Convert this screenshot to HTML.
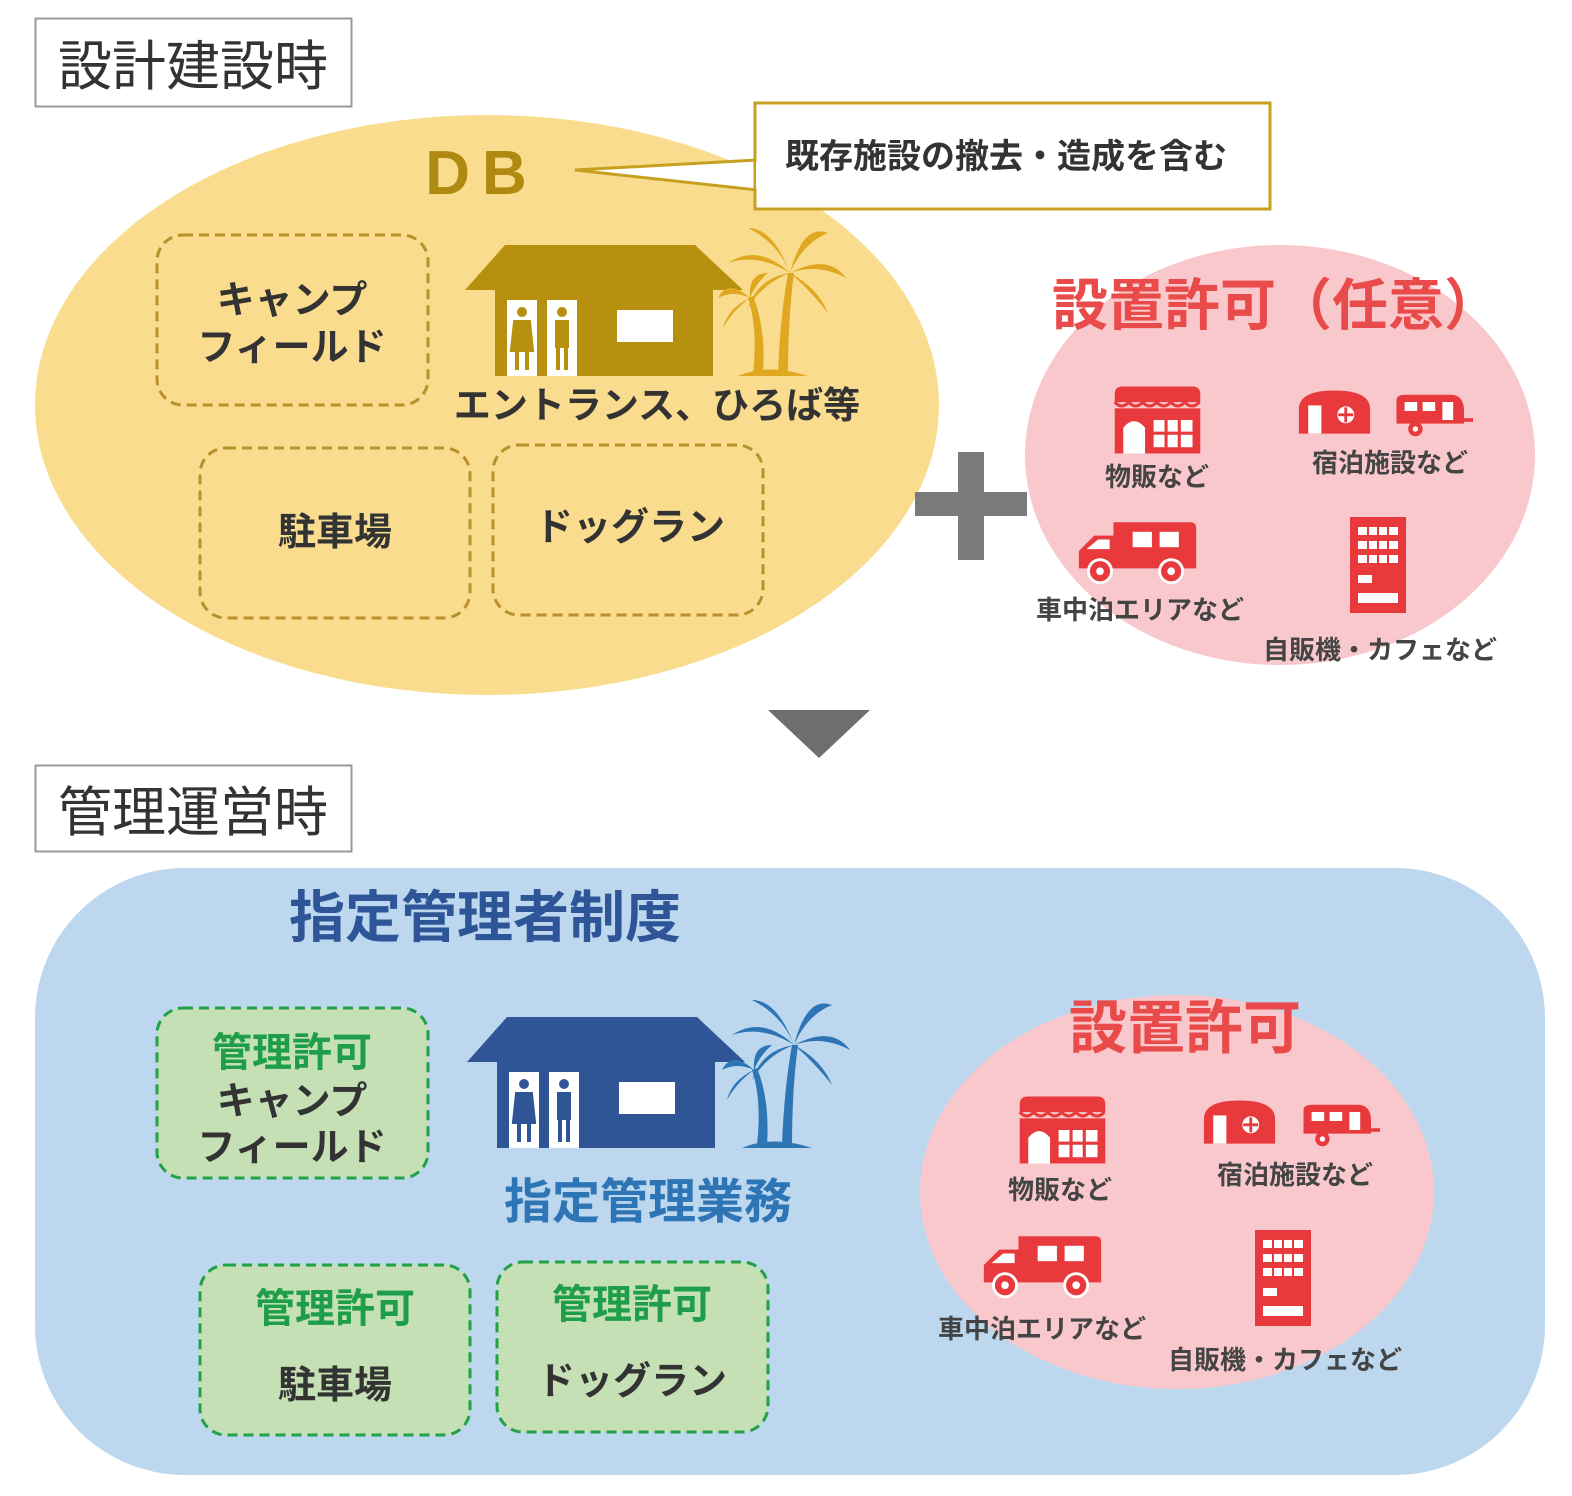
<!DOCTYPE html>
<html><head><meta charset="utf-8"><style>
html,body{margin:0;padding:0;background:#fff;}
svg{display:block;}
text{font-family:"Liberation Sans","Noto Sans CJK JP",sans-serif;}
</style></head><body>
<svg width="1572" height="1496" viewBox="0 0 1572 1496" xmlns="http://www.w3.org/2000/svg">
<defs>
<symbol id="shop" viewBox="0 0 120 90">
 <path d="M5 12 Q5 2 15 2 L105 2 Q115 2 115 12 L115 22 L5 22Z" fill="currentColor"/>
 <path d="M5 22 q9 10 18 0 q9 10 18 0 q9 10 18 0 q9 10 18 0 q9 10 18 0 q9 10 19 0" fill="none" stroke="currentColor" stroke-width="4"/>
 <rect x="5" y="30" width="110" height="58" fill="currentColor"/>
 <path d="M16 88 L16 55 Q30 38 44 55 L44 88Z" fill="#fff"/>
 <rect x="55" y="45" width="50" height="35" fill="#fff"/>
 <path d="M55 62 H105 M71 45 V80 M88 45 V80" stroke="currentColor" stroke-width="4"/>
</symbol>
<symbol id="cabin" viewBox="0 0 80 50">
 <path d="M2 48 V22 Q2 2 40 2 Q78 2 78 22 V48Z" fill="currentColor"/>
 <rect x="12" y="18" width="14" height="30" fill="#fff"/>
 <circle cx="52" cy="28" r="9" fill="#fff"/>
 <path d="M52 20 V36 M44 28 H60" stroke="currentColor" stroke-width="3"/>
</symbol>
<symbol id="trailer" viewBox="0 0 90 50">
 <path d="M5 8 Q5 2 15 2 L65 2 Q80 2 80 20 L80 34 L5 34Z" fill="currentColor"/>
 <rect x="14" y="10" width="14" height="10" fill="#fff"/><rect x="34" y="10" width="14" height="10" fill="#fff"/>
 <path d="M56 10 h12 v20 h-12z" fill="#fff"/>
 <path d="M80 30 H90" stroke="currentColor" stroke-width="4"/>
 <circle cx="26" cy="40" r="8" fill="currentColor"/><circle cx="26" cy="40" r="3" fill="#fff"/>
</symbol>
<symbol id="truck" viewBox="0 0 130 70">
 <path d="M40 4 H120 Q126 4 126 10 V52 H4 V34 L20 18 H40Z" fill="currentColor"/>
 <path d="M12 32 L24 22 H36 V32Z" fill="#fff"/>
 <rect x="60" y="14" width="20" height="16" fill="#fff"/><rect x="88" y="14" width="20" height="16" fill="#fff"/>
 <circle cx="26" cy="55" r="12" fill="currentColor" stroke="#fff" stroke-width="3"/><circle cx="26" cy="55" r="4" fill="#fff"/>
 <circle cx="100" cy="55" r="12" fill="currentColor" stroke="#fff" stroke-width="3"/><circle cx="100" cy="55" r="4" fill="#fff"/>
</symbol>
<symbol id="vend" viewBox="0 0 60 100">
 <rect x="2" y="2" width="56" height="96" fill="currentColor"/>
 <rect x="10" y="12" width="40" height="8" fill="#fff"/>
 <rect x="10" y="26" width="40" height="8" fill="#fff"/>
 <rect x="10" y="40" width="40" height="8" fill="#fff"/>
 <path d="M20 12 V48 M30 12 V48 M40 12 V48" stroke="currentColor" stroke-width="2"/>
 <rect x="10" y="60" width="14" height="8" fill="#fff"/>
 <rect x="10" y="78" width="40" height="10" fill="#fff"/>
</symbol>
<symbol id="palm" viewBox="0 0 130 160">
 <path d="M60 155 Q62 100 70 55 L76 55 Q70 100 70 155Z" fill="currentColor"/>
 <path d="M35 155 Q40 110 30 80 L35 78 Q48 110 45 155Z" fill="currentColor"/>
 <path d="M72 55 Q40 25 10 45 Q40 35 72 55Z M72 55 Q55 10 30 10 Q60 25 72 55Z M72 55 Q85 5 110 15 Q85 25 72 55Z M72 55 Q110 35 128 60 Q100 45 72 55Z M72 55 Q100 70 110 95 Q90 70 72 55Z M72 55 Q40 60 30 90 Q45 65 72 55Z" fill="currentColor"/>
 <path d="M32 80 Q10 60 0 80 Q15 72 32 80Z M32 80 Q30 55 50 55 Q38 65 32 80Z M32 80 Q10 90 5 110 Q15 92 32 80Z" fill="currentColor"/>
 <path d="M20 158 Q50 145 90 158Z" fill="currentColor"/>
</symbol>
<symbol id="house" viewBox="0 0 280 140">
 <path d="M0 50 L40 5 H230 L278 50Z" fill="currentColor"/>
 <rect x="30" y="50" width="218" height="86" fill="currentColor"/>
 <rect x="42" y="60" width="30" height="76" fill="#fff"/>
 <rect x="82" y="60" width="30" height="76" fill="#fff"/>
 <circle cx="57" cy="72" r="5" fill="currentColor"/><path d="M50 82 H64 L67 110 H47Z M52 110 V130 M62 110 V130" fill="currentColor" stroke="currentColor" stroke-width="4"/>
 <circle cx="97" cy="72" r="5" fill="currentColor"/><rect x="90" y="80" width="14" height="28" fill="currentColor"/><path d="M93 108 V130 M101 108 V130" stroke="currentColor" stroke-width="4"/>
 <rect x="152" y="70" width="56" height="32" fill="#fff"/>
</symbol>
</defs>

<rect x="35.5" y="18.5" width="316" height="88" fill="#fff" stroke="#999" stroke-width="2"/>
<text x="193" y="85" font-size="54" text-anchor="middle" fill="#333">設計建設時</text>

<ellipse cx="487" cy="405" rx="452" ry="290" fill="#f9dc8d"/>
<path d="M757 160 L575 170 L757 190Z" fill="#fff" stroke="#c8a020" stroke-width="3"/>
<rect x="755" y="103" width="515" height="106" fill="#fff" stroke="#c8a020" stroke-width="3"/>
<path d="M758 162 L758 188" stroke="#fff" stroke-width="4"/>
<text x="1006" y="168" font-size="34" font-weight="bold" text-anchor="middle" fill="#333">既存施設の撤去・造成を含む</text>
<text x="482" y="194" font-size="62" font-weight="bold" text-anchor="middle" fill="#b08a10" letter-spacing="12">DB</text>

<g fill="none" stroke="#b8912a" stroke-width="3" stroke-dasharray="10,6">
<rect x="157" y="235" width="271" height="170" rx="26"/>
<rect x="200" y="448" width="270" height="170" rx="26"/>
<rect x="493" y="445" width="270" height="170" rx="26"/>
</g>
<g font-size="38" font-weight="bold" text-anchor="middle" fill="#333">
<text x="292" y="313">キャンプ</text><text x="292" y="360">フィールド</text>
<text x="335" y="545">駐車場</text>
<text x="630" y="540">ドッグラン</text>
<text x="657" y="418" font-size="37">エントランス、ひろば等</text>
</g>
<use href="#house" x="465" y="240" width="280" height="140" style="color:#b8900f"/>
<use href="#palm" x="718" y="218" width="130" height="160" style="color:#e0a820"/>

<rect x="915" y="492" width="112" height="24" fill="#7a7a7a"/>
<rect x="958" y="452" width="26" height="108" fill="#7a7a7a"/>

<ellipse cx="1280" cy="455" rx="255" ry="210" fill="#f9c8cc"/>
<text x="1276" y="325" font-size="56" font-weight="bold" text-anchor="middle" fill="#e94a4a">設置許可（任意）</text>
<g style="color:#e8393c">
<use href="#shop" x="1095" y="385" width="125" height="70"/>
<use href="#cabin" x="1297" y="388" width="75" height="48"/>
<use href="#trailer" x="1390" y="393" width="85" height="45"/>
<use href="#truck" x="1075" y="518" width="125" height="68"/>
<use href="#vend" x="1347" y="515" width="62" height="100"/>
</g>
<g font-size="26" font-weight="bold" fill="#444" text-anchor="middle">
<text x="1157" y="486">物販など</text>
<text x="1390" y="472">宿泊施設など</text>
<text x="1140" y="619">車中泊エリアなど</text>
<text x="1380" y="659">自販機・カフェなど</text>
</g>

<path d="M768 710 H870 L819 758Z" fill="#6e6e6e"/>

<rect x="35.5" y="765.5" width="316" height="86" fill="#fff" stroke="#999" stroke-width="2"/>
<text x="193" y="831" font-size="54" text-anchor="middle" fill="#333">管理運営時</text>

<rect x="35" y="868" width="1510" height="607" rx="150" fill="#bdd7ee"/>
<text x="485" y="937" font-size="56" font-weight="bold" text-anchor="middle" fill="#2e5597">指定管理者制度</text>

<g fill="#c5e0b4" stroke="#22a04a" stroke-width="3" stroke-dasharray="10,6">
<rect x="157" y="1008" width="271" height="170" rx="26"/>
<rect x="200" y="1265" width="270" height="170" rx="26"/>
<rect x="497" y="1262" width="271" height="170" rx="26"/>
</g>
<g font-size="40" font-weight="bold" text-anchor="middle">
<text x="292" y="1066" fill="#1e9e48">管理許可</text>
<text x="292" y="1114" fill="#333" font-size="38">キャンプ</text>
<text x="292" y="1160" fill="#333" font-size="38">フィールド</text>
<text x="335" y="1322" fill="#1e9e48">管理許可</text>
<text x="335" y="1398" fill="#333" font-size="38">駐車場</text>
<text x="632" y="1318" fill="#1e9e48">管理許可</text>
<text x="632" y="1394" fill="#333" font-size="38">ドッグラン</text>
</g>
<use href="#house" x="467" y="1012" width="280" height="140" style="color:#2f5597"/>
<use href="#palm" x="722" y="990" width="130" height="160" style="color:#2e75b6"/>
<text x="648" y="1218" font-size="48" font-weight="bold" text-anchor="middle" fill="#2e75b6">指定管理業務</text>

<ellipse cx="1177" cy="1192" rx="257" ry="197" fill="#f9c8cc"/>
<text x="1185" y="1048" font-size="58" font-weight="bold" text-anchor="middle" fill="#e94a4a">設置許可</text>
<g style="color:#e8393c">
<use href="#shop" x="1000" y="1095" width="125" height="70"/>
<use href="#cabin" x="1202" y="1098" width="75" height="48"/>
<use href="#trailer" x="1297" y="1103" width="85" height="45"/>
<use href="#truck" x="980" y="1232" width="125" height="68"/>
<use href="#vend" x="1252" y="1228" width="62" height="100"/>
</g>
<g font-size="26" font-weight="bold" fill="#444" text-anchor="middle">
<text x="1060" y="1199">物販など</text>
<text x="1295" y="1184">宿泊施設など</text>
<text x="1042" y="1338">車中泊エリアなど</text>
<text x="1285" y="1369">自販機・カフェなど</text>
</g>
</svg>
</body></html>
